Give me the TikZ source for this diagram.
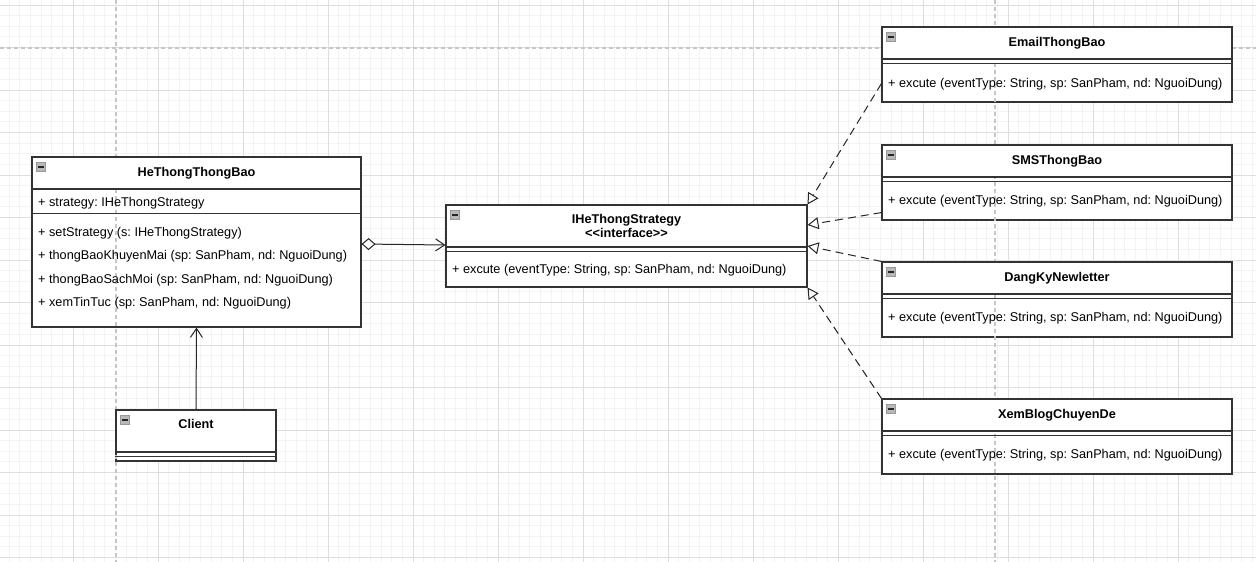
\documentclass[tikz,border=0pt]{standalone}
\usepackage{fontspec}
\setmainfont{Liberation Sans}
\usetikzlibrary{positioning,arrows.meta,calc}
\definecolor{gridminor}{HTML}{F4F4F4}
\definecolor{gridmajor}{HTML}{DEDEDE}
\definecolor{pagebreak}{HTML}{C6C6C6}
\definecolor{umlline}{HTML}{333333}
\tikzset{
  classbody/.style = {rectangle, draw=umlline, fill=white, line width=1.1pt, inner sep=0pt},
  classhead/.style = {rectangle, draw=umlline, fill=white, line width=1.1pt, inner sep=0pt,
                      anchor=north, align=center, font=\fontsize{12.7}{14}\selectfont\bfseries},
  classline/.style = {draw=umlline, line width=1.1pt},
  member/.style    = {anchor=west, inner sep=0pt},
  aggr/.style      = {draw=black!85, line width=1pt,
                      {Diamond[open, length=14pt, width=12pt]}-{Straight Barb[length=9pt, width=12pt]}},
  assoc/.style     = {draw=black!85, line width=1pt, -{Straight Barb[length=9pt, width=12pt]}},
  realize/.style   = {draw=black!85, line width=1pt, dash pattern=on 8pt off 5pt,
                      -{Triangle[open, length=11pt, width=12pt]}},
}
\newcommand{\headicon}[1]{%
  \draw[draw=gray!80, fill=gray!55, line width=0.8pt] ([xshift=5pt,yshift=-6pt]#1.north west) rectangle ++(9,9);
  \draw[draw=gray!30!black, line width=1.2pt] ([xshift=6.5pt,yshift=-10.5pt]#1.north west) -- ++(6,0);
}

\begin{document}
\frenchspacing
\begin{tikzpicture}[x=1pt, y=-1pt, font=\fontsize{12.7}{14}\selectfont]
    \useasboundingbox (0,0) rectangle (1256,562);
    \fill[white] (0,0) rectangle (1256,562);

    % grid
    \foreach \k in {0,...,117} \draw[gridminor, line width=0.8pt] ({9.25+10.625*\k},0) -- ++(0,562);
    \foreach \k in {0,...,52}  \draw[gridminor, line width=0.8pt] (0,{5+10.625*\k}) -- ++(1256,0);
    \foreach \k in {0,...,14}  \draw[gridmajor, line width=0.8pt] ({73+85*\k},0) -- ++(0,562);
    \foreach \k in {0,...,13}  \draw[gridmajor, line width=0.8pt] (0,{5+42.5*\k}) -- ++(1256,0);

    % class bodies
    \node [classbody, minimum width=329pt, minimum height=170pt] (hethong) at ( 196.5, 242)   {};
    \node [classbody, minimum width=160pt, minimum height=51pt]  (client)  at ( 196,   435.5) {};
    \node [classbody, minimum width=361pt, minimum height=82pt]  (istrat)  at ( 626.5, 246)   {};
    \node [classbody, minimum width=350pt, minimum height=75pt]  (email)   at (1057,   64.5)  {};
    \node [classbody, minimum width=350pt, minimum height=75pt]  (sms)     at (1057,   182.5) {};
    \node [classbody, minimum width=350pt, minimum height=75pt]  (dangky)  at (1057,   299.5) {};
    \node [classbody, minimum width=350pt, minimum height=75pt]  (xemblog) at (1057,   436.5) {};

    % page breaks
    \draw[pagebreak, line width=1.2pt, dash pattern=on 4pt off 3pt] (0,48) -- (1256,48);
    \draw[pagebreak, line width=1.2pt, dash pattern=on 4pt off 3pt] (116,0) -- (116,562);
    \draw[pagebreak, line width=1.2pt, dash pattern=on 4pt off 3pt] (995,0) -- (995,562);

    % class headers
    \node [classhead, minimum width=329pt, minimum height=32pt] (hethongH) at (hethong.north) {HeThongThongBao};
    \node [classhead, minimum width=160pt, minimum height=42pt] (clientH)  at (client.north)  {};
    \node [font=\fontsize{12.7}{14}\selectfont\bfseries] (clientname) at (196,424) {Client};
    \node [classhead, minimum width=361pt, minimum height=42pt] (istratH)  at (istrat.north)
          {IHeThongStrategy\\<\kern0pt<interface>\kern0pt>};
    \node [classhead, minimum width=350pt, minimum height=32pt] (emailH)   at (email.north)   {EmailThongBao};
    \node [classhead, minimum width=350pt, minimum height=32pt] (smsH)     at (sms.north)     {SMSThongBao};
    \node [classhead, minimum width=350pt, minimum height=32pt] (dangkyH)  at (dangky.north)  {DangKyNewletter};
    \node [classhead, minimum width=350pt, minimum height=32pt] (xemblogH) at (xemblog.north) {XemBlogChuyenDe};

    \foreach \h in {hethongH, clientH, istratH, emailH, smsH, dangkyH, xemblogH} {\headicon{\h}}

    % compartments
    \draw[classline] ([yshift=-57pt]hethong.north west) -- ([yshift=-57pt]hethong.north east);
    \draw[classline] ([yshift=-47pt]istrat.north west)  -- ([yshift=-47pt]istrat.north east);
    \draw[classline] ([yshift=-47pt]client.north west)  -- ([yshift=-47pt]client.north east);
    \foreach \c in {email, sms, dangky, xemblog}
        \draw[classline] ([yshift=-37pt]\c.north west) -- ([yshift=-37pt]\c.north east);

    % members
    \node [member] (hethongA)  at (38, 203)   {+ strategy: IHeThongStrategy};
    \node [member] (hethongO1) at (38, 233)   {+ setStrategy (s: IHeThongStrategy)};
    \node [member] (hethongO2) at (38, 256.5) {+ thongBaoKhuyenMai (sp: SanPham, nd: NguoiDung)};
    \node [member] (hethongO3) at (38, 280)   {+ thongBaoSachMoi (sp: SanPham, nd: NguoiDung)};
    \node [member] (hethongO4) at (38, 303)   {+ xemTinTuc (sp: SanPham, nd: NguoiDung)};

    \node [member] (istratO)   at (452, 270)  {+ excute (eventType: String, sp: SanPham, nd: NguoiDung)};
    \node [member] (emailO)    at (888, 84)   {+ excute (eventType: String, sp: SanPham, nd: NguoiDung)};
    \node [member] (smsO)      at (888, 201)  {+ excute (eventType: String, sp: SanPham, nd: NguoiDung)};
    \node [member] (dangkyO)   at (888, 318)  {+ excute (eventType: String, sp: SanPham, nd: NguoiDung)};
    \node [member] (xemblogO)  at (888, 455)  {+ excute (eventType: String, sp: SanPham, nd: NguoiDung)};

    % relations
    \draw[aggr]  ([yshift=-2pt]hethong.east) -- ([yshift=1pt]istrat.west);
    \draw[assoc] (client.north) -- (hethong.south);
    \draw[realize] ($(email.west)!0.5!(email.south west)$) -- (istrat.north east);
    \draw[realize] ([yshift=8pt]sms.south west) -- ([yshift=21pt]istrat.east);
    \draw[realize] (dangky.north west) -- (istrat.east);
    \draw[realize] (xemblog.north west) -- (istrat.south east);
\end{tikzpicture}
\end{document}
